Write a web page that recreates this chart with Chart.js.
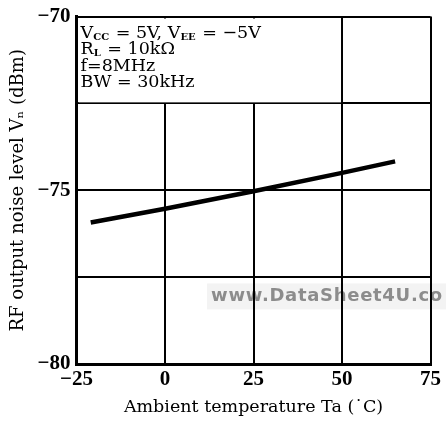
<!DOCTYPE html>
<html>
<head>
<meta charset="utf-8">
<script src="https://cdn.jsdelivr.net/npm/chart.js@4"></script>
<style>
    html, body { margin: 0; padding: 0; background: #fff; }
    #wrap { width: 446px; height: 422px; }
</style>
</head>
<body>
<div id="wrap"><canvas id="noise-chart" width="446" height="422"></canvas></div>
<script>
// данные
const temperatures = [-21, 0, 25, 50, 65];
const noiseLevels = [-75.93, -75.53, -75.03, -74.5, -74.17];
const xTickValues = [-25, 0, 25, 50, 75];
const yLabelValues = [-70, -75, -80];
const conditionLines = [
    [['V', 0], ['CC', 1], [' = 5V, V', 0], ['EE', 1], [' = \u22125V', 0]],
    [['R', 0], ['L', 1], [' = 10k\u03A9', 0]],
    [['f=8MHz', 0]],
    [['BW = 30kHz', 0]]
];

const minus = v => (v < 0 ? '\u2212' + Math.abs(v) : String(v));

// белая рамка с условиями измерения поверх сетки + водяной знак под сеткой
const conditionsBox = {
    id: 'conditionsBox',
    beforeDraw(chart) {
        const { ctx, scales } = chart;
        const wx = scales.x.getPixelForValue(13);
        const wy = scales.y.getPixelForValue(-78.2);
        ctx.save();
        ctx.fillStyle = '#f3f3f3';
        ctx.fillRect(wx - 4, wy - 18, 446 - wx + 4, 26);
        ctx.fillStyle = '#8c8c8c';
        ctx.font = 'bold 18px "DejaVu Sans"';
        ctx.letterSpacing = '0.7px';
        ctx.fillText('www.DataSheet4U.co', wx, wy);
        ctx.restore();
    },
    beforeDatasetsDraw(chart) {
        const { ctx, scales } = chart;
        const x0 = scales.x.getPixelForValue(-25);
        const x1 = scales.x.getPixelForValue(50);
        const y0 = scales.y.getPixelForValue(-70);
        const y1 = scales.y.getPixelForValue(-72.5);
        ctx.save();
        ctx.fillStyle = '#fff';
        ctx.fillRect(x0 + 2, y0 + 2, x1 - x0 - 3, y1 - y0 - 3);
        ctx.fillStyle = '#000';
        ctx.textBaseline = 'alphabetic';
        conditionLines.forEach((parts, i) => {
            let x = x0 + 4;
            const y = y0 + 21 + i * 16.5;
            parts.forEach(([text, sub]) => {
                ctx.font = sub ? 'bold 10px "DejaVu Serif"' : '17.5px "DejaVu Serif"';
                ctx.fillText(text, x, sub ? y + 2 : y);
                x += ctx.measureText(text).width + (sub ? 1 : 0);
            });
        });
        ctx.restore();
    }
};

const ctx = document.getElementById('noise-chart').getContext('2d');
new Chart(ctx, {
    type: 'line',
    data: {
        datasets: [{
            data: temperatures.map((t, i) => ({ x: t, y: noiseLevels[i] })),
            borderColor: '#000',
            borderWidth: 4.5,
            pointRadius: 0,
            tension: 0
        }]
    },
    options: {
        responsive: false,
        animation: false,
        layout: { padding: { top: 0, right: -3, left: 8, bottom: 0 } },
        plugins: {
            legend: { display: false },
            tooltip: { enabled: false }
        },
        scales: {
            x: {
                type: 'linear',
                min: -25,
                max: 75,
                afterBuildTicks: axis => { axis.ticks = xTickValues.map(v => ({ value: v })); },
                ticks: {
                    color: '#000',
                    padding: 5,
                    maxRotation: 0,
                    font: { family: 'Liberation Serif', size: 21, weight: 'bold', lineHeight: 1 },
                    callback: v => minus(v)
                },
                grid: { color: '#000', lineWidth: 2, drawTicks: false },
                border: { color: '#000', width: 3 },
                title: {
                    display: true,
                    text: 'Ambient temperature Ta (\u02D9C)',
                    color: '#000',
                    padding: { top: 2, bottom: 4 },
                    font: { family: 'DejaVu Serif', size: 17.5 }
                }
            },
            y: {
                type: 'linear',
                min: -80,
                max: -70,
                ticks: {
                    stepSize: 2.5,
                    color: '#000',
                    padding: 6,
                    font: { family: 'Liberation Serif', size: 21, weight: 'bold', lineHeight: 1 },
                    callback: v => (yLabelValues.includes(v) ? minus(v) : '')
                },
                grid: { color: '#000', lineWidth: 2, drawTicks: false },
                border: { color: '#000', width: 3 },
                title: {
                    display: true,
                    text: 'RF output noise level V\u2099 (dBm)',
                    color: '#000',
                    padding: { top: 0, bottom: 2 },
                    font: { family: 'DejaVu Serif', size: 18 }
                }
            }
        }
    },
    plugins: [conditionsBox]
});
</script>
</body>
</html>
